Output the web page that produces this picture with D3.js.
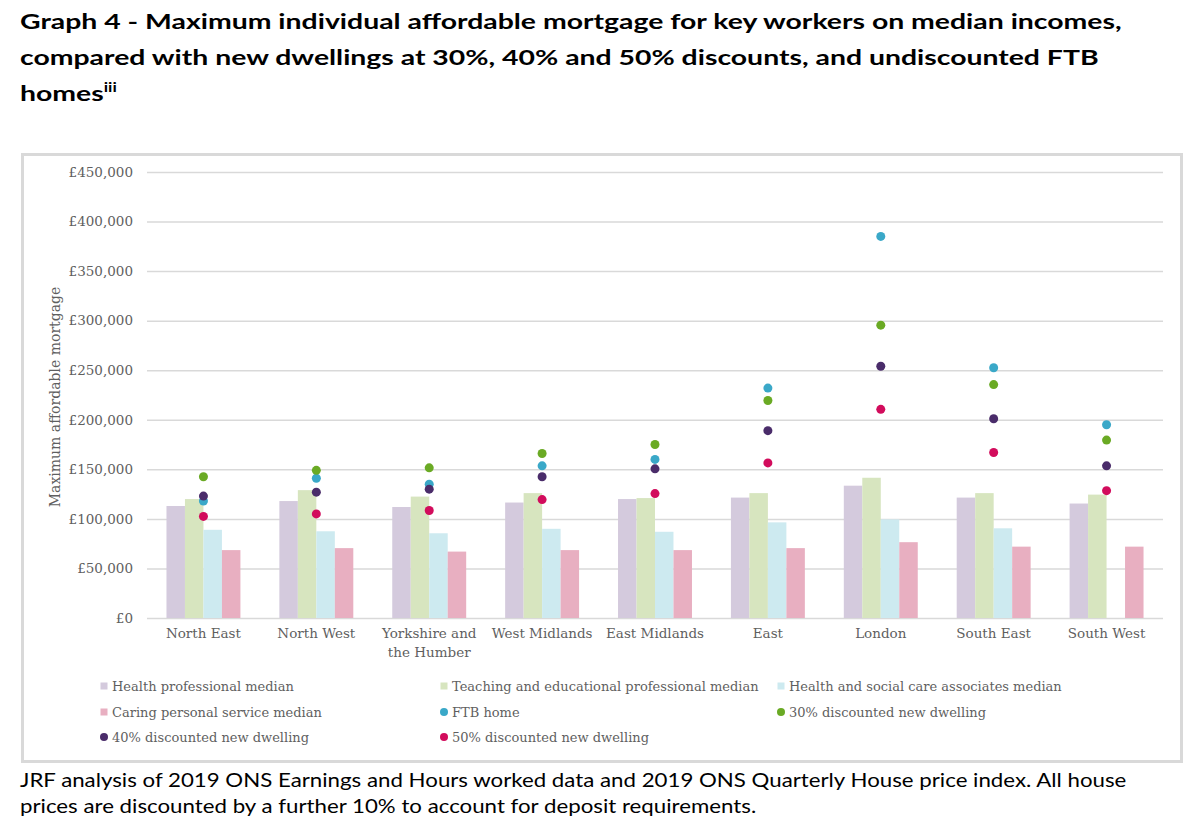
<!DOCTYPE html>
<html>
<head>
<meta charset="utf-8">
<script src="https://cdn.jsdelivr.net/npm/d3@7/dist/d3.min.js"></script>
<style>
  html, body { margin: 0; padding: 0; background: #ffffff; }
  svg { display: block; }
</style>
</head>
<body>
<svg id="chart" width="1200" height="832"></svg>
<script>
// ---------------- DATA ----------------
const regions = ["North East", "North West", "Yorkshire and the Humber", "West Midlands",
                 "East Midlands", "East", "London", "South East", "South West"];
const regionLabels = [["North East"], ["North West"], ["Yorkshire and", "the Humber"], ["West Midlands"],
                      ["East Midlands"], ["East"], ["London"], ["South East"], ["South West"]];

const healthProfessional = [113000, 118000, 112000, 116500, 120000, 121500, 133500, 121500, 115500];
const teachingProfessional = [120000, 129000, 122500, 126000, 121000, 126000, 141500, 126000, 124500];
const healthSocialAssociates = [89000, 87500, 85500, 90000, 87000, 96500, 99500, 90500, null];
const caringPersonal = [68500, 70500, 67000, 68500, 68500, 70500, 76500, 72000, 72000];

const ftbHome = [118000, 141000, 135000, 153500, 160000, 232000, 385000, 252500, 195000];
const discount30 = [142500, 149000, 151500, 166000, 175000, 219500, 295500, 235500, 179500];
const discount40 = [123000, 127000, 130000, 142500, 150500, 189000, 254000, 201000, 153500];
const discount50 = [102500, 105000, 108500, 119500, 125500, 156500, 210500, 167000, 128500];

const yTicks = [0, 50000, 100000, 150000, 200000, 250000, 300000, 350000, 400000, 450000];

const barSeriesNames = ["Health professional median", "Teaching and educational professional median",
                        "Health and social care associates median", "Caring personal service median"];
const dotSeriesNames = ["FTB home", "30% discounted new dwelling", "40% discounted new dwelling",
                        "50% discounted new dwelling"];

const titleLines = ["Graph 4 - Maximum individual affordable mortgage for key workers on median incomes,",
                    "compared with new dwellings at 30%, 40% and 50% discounts, and undiscounted FTB",
                    "homes"];
const footerLines = ["JRF analysis of 2019 ONS Earnings and Hours worked data and 2019 ONS Quarterly House price index. All house",
                     "prices are discounted by a further 10% to account for deposit requirements."];

// ---------------- STYLE ----------------
const barColors = ["#d4cadd", "#d7e5bf", "#cdeaf0", "#e8afc1"];
const dotColors = ["#3aa8c8", "#6aaa24", "#4a2c6a", "#d20c5c"];
const serif = "'DejaVu Serif', 'Liberation Serif', serif";
const sans = "'Lato', 'Open Sans', sans-serif";
const textGray = "#5f5f5f";
const gridColor = "#d9d9d9";

const svg = d3.select("#chart");

// ---------------- TITLE ----------------
const titleG = svg.append("g");
const titleYs = [29.5, 65.5, 101];
const titleTexts = titleG.selectAll("text").data(titleLines).join("text")
  .attr("x", 0).attr("y", (d, i) => titleYs[i])
  .attr("font-family", sans).attr("font-weight", 700).attr("font-size", 21.5)
  .attr("fill", "#000")
  .text(d => d);
titleTexts.filter((d, i) => i === 2).append("tspan")
  .attr("font-size", 13).attr("dy", -9).text("iii");
const tW = titleTexts.nodes()[0].getComputedTextLength();
titleG.attr("transform", `translate(20,0) scale(${1102 / tW},1)`);

// ---------------- FRAME ----------------
svg.append("rect")
  .attr("x", 22.5).attr("y", 154.5).attr("width", 1159).attr("height", 607)
  .attr("fill", "none").attr("stroke", gridColor).attr("stroke-width", 3);

// ---------------- SCALES ----------------
const y = d3.scaleLinear().domain([0, 450000]).range([618, 172]);
const x = d3.scaleBand().domain(regions).range([147, 1163]).padding(0);
const groupFrac = 0.655;
const xInner = d3.scaleBand().domain(d3.range(4))
  .range([x.bandwidth() * (1 - groupFrac) / 2, x.bandwidth() * (1 + groupFrac) / 2]).padding(0);

// ---------------- GRID + Y AXIS ----------------
const yAxis = d3.axisLeft(y).tickValues(yTicks)
  .tickSize(-(1163 - 147))
  .tickPadding(14)
  .tickFormat(d => "£" + d3.format(",")(d));
const yAxisG = svg.append("g").attr("transform", "translate(147,0)").call(yAxis);
yAxisG.select(".domain").remove();
yAxisG.selectAll(".tick line").attr("stroke", gridColor).attr("stroke-width", 1.5);
yAxisG.selectAll(".tick text").attr("font-family", serif).attr("font-size", 13.5)
  .attr("fill", textGray);

svg.append("text")
  .attr("transform", "translate(55,397) rotate(-90)")
  .attr("text-anchor", "middle").attr("dominant-baseline", "central")
  .attr("font-family", serif).attr("font-size", 14).attr("fill", textGray)
  .text("Maximum affordable mortgage");

// ---------------- BARS ----------------
const barSeries = [healthProfessional, teachingProfessional, healthSocialAssociates, caringPersonal];
barSeries.forEach((vals, s) => {
  svg.append("g").selectAll("rect")
    .data(vals.map((v, i) => ({ region: regions[i], v })).filter(d => d.v != null))
    .join("rect")
    .attr("x", d => x(d.region) + xInner(s))
    .attr("width", xInner.bandwidth())
    .attr("y", d => y(d.v))
    .attr("height", d => y(0) - y(d.v))
    .attr("fill", barColors[s]);
});

// ---------------- DOTS ----------------
const dotSeries = [ftbHome, discount30, discount40, discount50];
dotSeries.forEach((vals, s) => {
  svg.append("g").selectAll("circle")
    .data(vals.map((v, i) => ({ region: regions[i], v })))
    .join("circle")
    .attr("cx", d => x(d.region) + x.bandwidth() / 2)
    .attr("cy", d => y(d.v))
    .attr("r", 4.5)
    .attr("fill", dotColors[s]);
});

// ---------------- X AXIS LABELS ----------------
const xLab = svg.append("g").selectAll("text")
  .data(regions.map((r, i) => ({ r, lines: regionLabels[i] })))
  .join("text")
  .attr("x", d => x(d.r) + x.bandwidth() / 2)
  .attr("y", 638)
  .attr("text-anchor", "middle")
  .attr("font-family", serif).attr("font-size", 13.5).attr("fill", textGray);
xLab.selectAll("tspan").data(d => d.lines).join("tspan")
  .attr("x", function () { return d3.select(this.parentNode).attr("x"); })
  .attr("dy", (d, i) => i === 0 ? 0 : 19)
  .text(d => d);

// ---------------- LEGEND ----------------
const legendItems = [
  { name: barSeriesNames[0], type: "bar", color: barColors[0], col: 0, row: 0 },
  { name: barSeriesNames[1], type: "bar", color: barColors[1], col: 1, row: 0 },
  { name: barSeriesNames[2], type: "bar", color: barColors[2], col: 2, row: 0 },
  { name: barSeriesNames[3], type: "bar", color: barColors[3], col: 0, row: 1 },
  { name: dotSeriesNames[0], type: "dot", color: dotColors[0], col: 1, row: 1 },
  { name: dotSeriesNames[1], type: "dot", color: dotColors[1], col: 2, row: 1 },
  { name: dotSeriesNames[2], type: "dot", color: dotColors[2], col: 0, row: 2 },
  { name: dotSeriesNames[3], type: "dot", color: dotColors[3], col: 1, row: 2 }
];
const legCols = [104, 444, 781];
const legRows = [686, 712, 737];
const leg = svg.append("g").selectAll("g").data(legendItems).join("g")
  .attr("transform", d => `translate(${legCols[d.col]},${legRows[d.row]})`);
leg.filter(d => d.type === "bar").append("rect")
  .attr("x", -3.5).attr("y", -3.5).attr("width", 7).attr("height", 7)
  .attr("fill", d => d.color);
leg.filter(d => d.type === "dot").append("circle")
  .attr("r", 4).attr("fill", d => d.color);
leg.append("text")
  .attr("x", 8).attr("y", 0).attr("dominant-baseline", "central")
  .attr("font-family", serif).attr("font-size", 13).attr("fill", textGray)
  .text(d => d.name);

// ---------------- FOOTER ----------------
const footG = svg.append("g");
const footYs = [787, 813];
const footTexts = footG.selectAll("text").data(footerLines).join("text")
  .attr("x", 0).attr("y", (d, i) => footYs[i])
  .attr("font-family", sans).attr("font-size", 19.5).attr("fill", "#000")
  .text(d => d);
const fW = footTexts.nodes()[0].getComputedTextLength();
footG.attr("transform", `translate(20,0) scale(${1107 / fW},1)`);
</script>
</body>
</html>
